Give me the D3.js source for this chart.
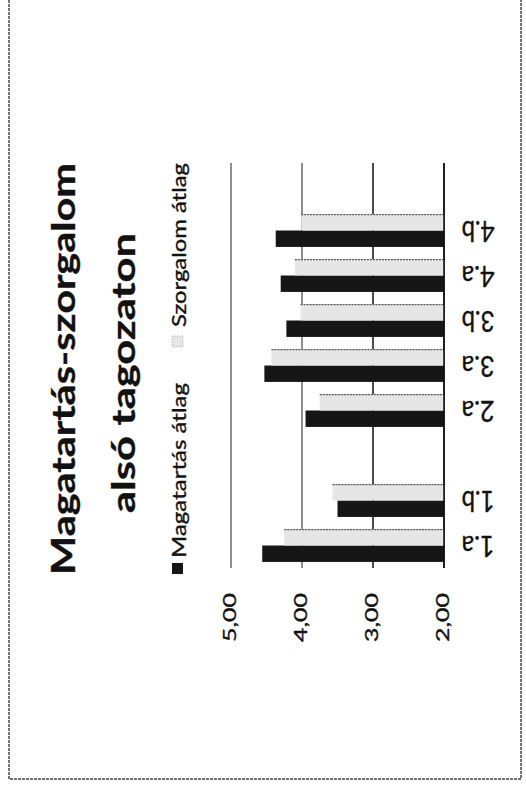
<!DOCTYPE html>
<html>
<head>
<meta charset="utf-8">
<script src="https://cdn.jsdelivr.net/npm/d3@7/dist/d3.min.js"></script>
<style>
html,body{margin:0;padding:0;background:#fff;}
svg{display:block;}
text{font-family:Lato,"Open Sans",sans-serif;fill:#111;stroke:#111;stroke-width:0.35;}
</style>
</head>
<body>
<svg id="chart" width="526" height="792"></svg>
<script>
// ---- data ----
const categories = ["1.a","1.b","","2.a","3.a","3.b","4.a","4.b"," "];
const seriesNames = ["Magatartás átlag","Szorgalom átlag"];
const magatartas = [4.56, 3.50, null, 3.95, 4.53, 4.22, 4.30, 4.37, null];
const szorgalom  = [4.25, 3.57, null, 3.75, 4.43, 4.02, 4.10, 4.01, null];
const tickValues = [2, 3, 4, 5];
const tickLabels = ["2,00","3,00","4,00","5,00"];
const titleLines = ["Magatartás-szorgalom","alsó tagozaton"];

const svg = d3.select("#chart");
const colors = {"Magatartás átlag":"#161616","Szorgalom átlag":"#e6e6e6"};

// outer frame
svg.append("rect").attr("x",9).attr("y",-5).attr("width",512).attr("height",784)
  .attr("fill","none").attr("stroke","#444").attr("stroke-width",1.5).attr("stroke-dasharray","3,1");

// scales (chart is rotated 90deg: value axis runs right->left, categories bottom->top)
const plotTop = 163, plotBottom = 568;
const x = d3.scaleLinear().domain([2,5]).range([444,231]);
const y = d3.scaleBand().domain(d3.range(categories.length)).range([plotBottom, plotTop])
  .paddingInner(0.27).paddingOuter(0.135);
const ys = d3.scaleBand().domain(seriesNames).range([y.bandwidth(), 0]);

// gridlines
svg.append("g").selectAll("line").data(tickValues).join("line")
  .attr("x1",d=>x(d)).attr("x2",d=>x(d)).attr("y1",plotTop).attr("y2",plotBottom)
  .attr("stroke",d=>d===3||d===2?"#111":"#444").attr("stroke-width",d=>d===3||d===2?1.5:1.2);

// bars
const rows = [];
categories.forEach((c,i)=>{
  [magatartas, szorgalom].forEach((arr,k)=>{
    if(arr[i]!=null) rows.push({i, s:seriesNames[k], v:arr[i]});
  });
});
const gb = svg.append("g");
gb.selectAll("rect").data(rows).join("rect")
  .attr("x",d=>x(d.v)).attr("width",d=>x(2)-x(d.v))
  .attr("y",d=>y(d.i)+ys(d.s)).attr("height",ys.bandwidth())
  .attr("fill",d=>colors[d.s]);
gb.selectAll("line").data(rows.filter(d=>d.s==="Szorgalom átlag")).join("line")
  .attr("x1",d=>x(d.v)).attr("x2",x(2))
  .attr("y1",d=>y(d.i)+ys(d.s)+0.5).attr("y2",d=>y(d.i)+ys(d.s)+0.5)
  .attr("stroke","#555").attr("stroke-width",1.2).attr("stroke-dasharray","2,1");

// axis line
svg.append("line").attr("x1",x(2)).attr("x2",x(2)).attr("y1",plotTop).attr("y2",plotBottom)
  .attr("stroke","#111").attr("stroke-width",1.5);

// value tick labels (rotated, reading bottom to top)
svg.append("g").selectAll("text").data(tickValues).join("text")
  .attr("transform",d=>`translate(${x(d)+5},642) rotate(-90)`)
  .attr("font-size",18).attr("textLength",49).attr("lengthAdjust","spacingAndGlyphs")
  .text((d,i)=>tickLabels[i]);

// category labels (upside down)
svg.append("g").selectAll("text").data(categories.map((c,i)=>({c,i})).filter(d=>d.c.trim()!=="")).join("text")
  .attr("transform",d=>`translate(478,${y(d.i)+y.bandwidth()/2-10}) rotate(180)`)
  .attr("text-anchor","middle").attr("font-size",28)
  .attr("textLength",33).attr("lengthAdjust","spacingAndGlyphs")
  .text(d=>d.c);

// title
svg.append("text").attr("transform","translate(75,369) rotate(-90)")
  .attr("text-anchor","middle").attr("font-weight","bold").attr("font-size",32.5)
  .attr("stroke-width",0.6)
  .attr("textLength",412).attr("lengthAdjust","spacingAndGlyphs").text(titleLines[0]);
svg.append("text").attr("transform","translate(135,373) rotate(-90)")
  .attr("text-anchor","middle").attr("font-weight","bold").attr("font-size",32.5)
  .attr("stroke-width",0.6)
  .attr("textLength",280).attr("lengthAdjust","spacingAndGlyphs").text(titleLines[1]);

// legend
const legend = [
  {name:seriesNames[0], sqY:563, textY:558, len:175},
  {name:seriesNames[1], sqY:336, textY:327, len:164}
];
const lg = svg.append("g");
lg.selectAll("rect").data(legend).join("rect")
  .attr("x",172).attr("y",d=>d.sqY).attr("width",11).attr("height",11)
  .attr("fill",d=>colors[d.name])
  .attr("stroke",d=>d.name===seriesNames[1]?"#999":"none").attr("stroke-width",0.8).attr("stroke-dasharray","1,1.5");
lg.selectAll("text").data(legend).join("text")
  .attr("transform",d=>`translate(186,${d.textY}) rotate(-90)`)
  .attr("font-size",18.5).attr("textLength",d=>d.len).attr("lengthAdjust","spacingAndGlyphs")
  .text(d=>d.name);
</script>
</body>
</html>
